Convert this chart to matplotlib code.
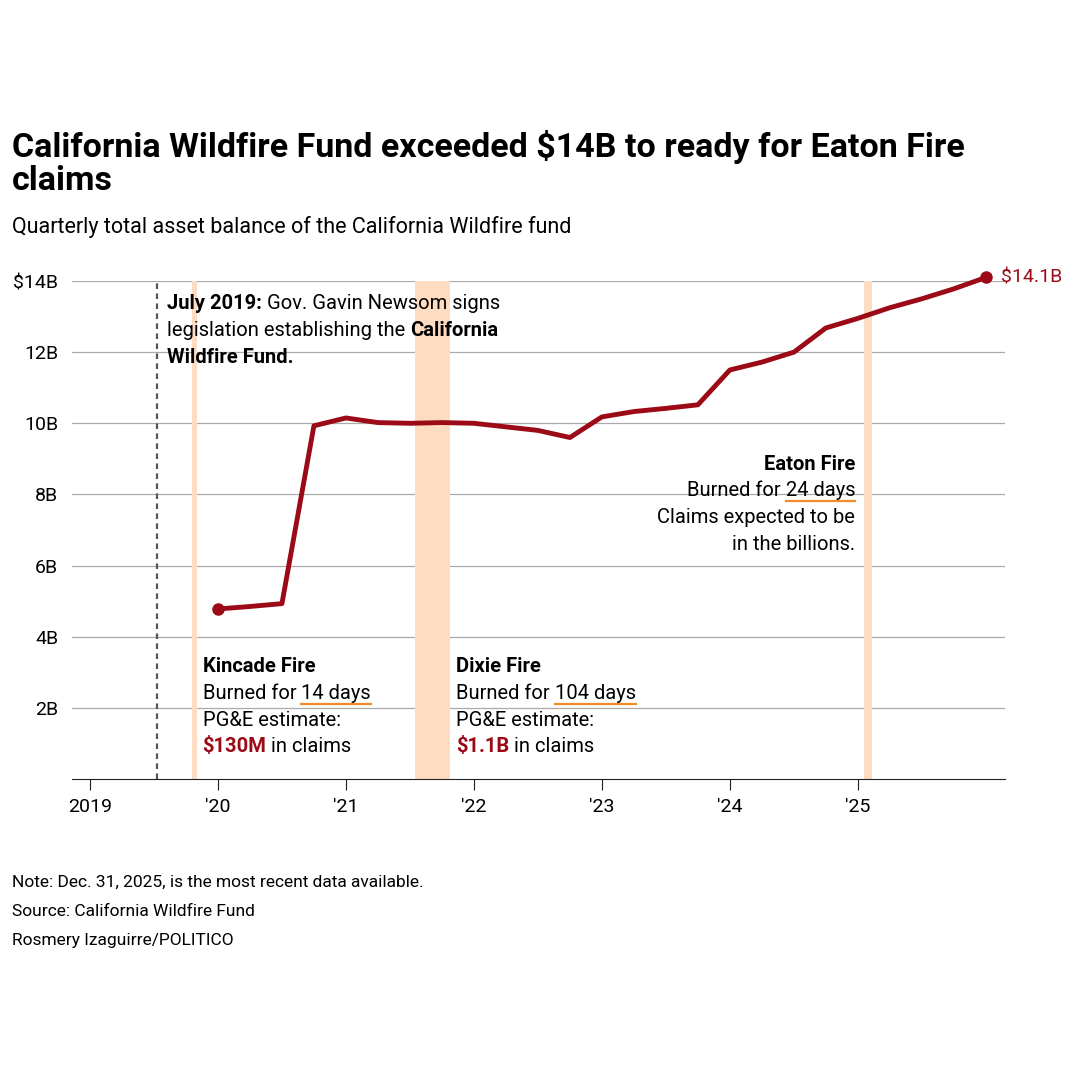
import matplotlib
matplotlib.use("Agg")
import matplotlib.pyplot as plt
from matplotlib.transforms import offset_copy

plt.rcParams['font.family'] = ['Roboto', 'DejaVu Sans']

dates = [2020.0 + 0.25*i for i in range(25)]
values = [4.78, 4.85, 4.93, 9.93, 10.15, 10.02, 10.0, 10.02, 10.0, 9.9, 9.8, 9.6,
          10.18, 10.33, 10.42, 10.52, 11.5, 11.72, 12.0, 12.68, 12.95, 13.25, 13.5, 13.78, 14.1]
year_ticks = [2019, 2020, 2021, 2022, 2023, 2024, 2025]
year_labels = ['2019', "'20", "'21", "'22", "'23", "'24", "'25"]
y_ticks = [2, 4, 6, 8, 10, 12, 14]
y_labels = ['2B', '4B', '6B', '8B', '10B', '12B', '$14B']
fires = [(2019.80, 2019.84), (2021.54, 2021.81), (2025.05, 2025.11)]
signing = 2019.52

RED = '#9b0a16'
BAND = '#fedcc2'
ORANGE = '#f28c28'
fig = plt.figure(figsize=(10.8, 10.8), dpi=100)
ax = fig.add_axes([0.0667, 0.2787, 0.8639, 0.4611])
ax.set_xlim(2018.86, 2026.15)
ax.set_ylim(0, 14)
for s in ['top', 'right', 'left']:
    ax.spines[s].set_visible(False)
ax.spines['bottom'].set_color('#222')
for y in y_ticks:
    ax.axhline(y, color='#aaa', lw=0.9, zorder=0)
for a, b in fires:
    ax.axvspan(a, b, color=BAND, zorder=1, lw=0)
ax.axvline(signing, color='#555', ls=(0, (2.5, 2)), lw=1.6, zorder=2)
ax.plot(dates, values, color=RED, lw=3.5, zorder=3, solid_capstyle='round', clip_on=False)
ax.plot([dates[0], dates[-1]], [values[0], values[-1]], 'o', color=RED, ms=8, zorder=4, clip_on=False)
ax.text(dates[-1] + 0.12, values[-1], '$14.1B', color=RED, fontsize=14, va='center')

ax.set_xticks(year_ticks)
ax.set_xticklabels(year_labels, fontsize=14)
ax.tick_params(axis='x', length=8, color='#222', pad=6)
ax.set_yticks(y_ticks)
ax.set_yticklabels(y_labels, fontsize=14)
ax.tick_params(axis='y', length=0, pad=10)

fs = 14.5
renderer = fig.canvas.get_renderer()

def line(x, y, pieces):
    tr = ax.transData
    dx = 0
    for txt, w, c, ul in pieces:
        t = ax.text(x, y, txt, fontsize=fs, fontweight=w, color=c, va='baseline',
                    transform=offset_copy(tr, fig=fig, x=dx, y=0, units='dots'), zorder=5)
        bb = t.get_window_extent(renderer)
        if ul:
            x0, y0 = tr.transform((x, y))
            fig.add_artist(plt.Line2D([x0 + dx, x0 + dx + bb.width], [y0 - 5, y0 - 5],
                                      transform=None, color=ORANGE, lw=1.6))
        dx += bb.width

B, N = 'bold', 'normal'
K = 'black'
line(2019.6, 13.2, [("July 2019:", B, K, 0), (" Gov. Gavin Newsom signs", N, K, 0)])
line(2019.6, 12.45, [("legislation establishing the ", N, K, 0), ("California", B, K, 0)])
line(2019.6, 11.7, [("Wildfire Fund.", B, K, 0)])

line(2019.88, 3.0, [("Kincade Fire", B, K, 0)])
line(2019.88, 2.25, [("Burned for ", N, K, 0), ("14 days", N, K, 1)])
line(2019.88, 1.5, [("PG&E estimate:", N, K, 0)])
line(2019.88, 0.75, [("$130M", B, RED, 0), (" in claims", N, K, 0)])
line(2021.86, 3.0, [("Dixie Fire", B, K, 0)])
line(2021.86, 2.25, [("Burned for ", N, K, 0), ("104 days", N, K, 1)])
line(2021.86, 1.5, [("PG&E estimate:", N, K, 0)])
line(2021.86, 0.75, [("$1.1B", B, RED, 0), (" in claims", N, K, 0)])

ax.text(2024.98, 8.7, "Eaton Fire", fontsize=fs, fontweight='bold', va='baseline', ha='right')
t = ax.text(2024.98, 7.95, "24 days", fontsize=fs, va='baseline', ha='right')
bb = t.get_window_extent(renderer)
fig.add_artist(plt.Line2D([bb.x0, bb.x1], [bb.y0 - 1, bb.y0 - 1], transform=None, color=ORANGE, lw=1.6))
ax.text(2024.98, 7.95, "Burned for ", fontsize=fs, va='baseline', ha='right',
        transform=offset_copy(ax.transData, fig=fig, x=-bb.width, y=0, units='dots'))
ax.text(2024.98, 7.2, "Claims expected to be", fontsize=fs, va='baseline', ha='right')
ax.text(2024.98, 6.45, "in the billions.", fontsize=fs, va='baseline', ha='right')

fig.text(0.011, 0.88, "California Wildfire Fund exceeded $14B to ready for Eaton Fire\nclaims",
         fontsize=24.5, fontweight='bold', va='top', linespacing=1.05)
fig.text(0.011, 0.8, "Quarterly total asset balance of the California Wildfire fund", fontsize=15.5, va='top')
fig.text(0.011, 0.19, "Note: Dec. 31, 2025, is the most recent data available.", fontsize=12.5, va='top')
fig.text(0.011, 0.163, "Source: California Wildfire Fund", fontsize=12.5, va='top')
fig.text(0.011, 0.136, "Rosmery Izaguirre/POLITICO", fontsize=12.5, va='top')
fig.savefig('out.png', dpi=100, facecolor='white')
